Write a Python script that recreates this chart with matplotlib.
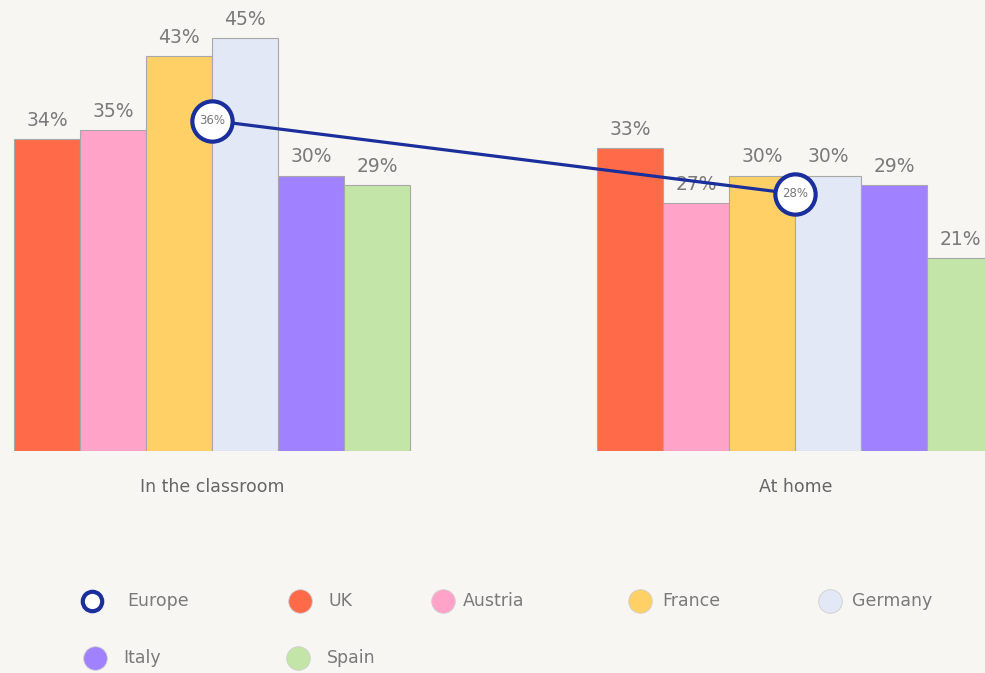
import matplotlib.pyplot as plt

categories = ["In the classroom", "At home"]
countries = ["UK", "Austria", "France", "Germany", "Italy", "Spain"]
values = {
    "UK": [34, 33],
    "Austria": [35, 27],
    "France": [43, 30],
    "Germany": [45, 30],
    "Italy": [30, 29],
    "Spain": [29, 21],
}
europe = [36, 28]
colors = ["#ff6a48", "#ffa3c9", "#ffd066", "#e2e8f6", "#a081ff", "#c4e5a8"]

bg = "#f8f6f2"
blue = "#1b2f9c"
txt = "#7a7a7a"

fig = plt.figure(figsize=(9.85, 6.73), dpi=100, facecolor=bg)
ax = fig.add_axes([0, 222 / 673, 1, 451 / 673])
ax.set_facecolor(bg)

group_x = [0, 8.84]
w = 1.0
for i, c in enumerate(countries):
    xs = [g + (i - 2.5) * w for g in group_x]
    bars = ax.bar(xs, values[c], width=w, color=colors[i], edgecolor="#a8a8a8",
                  linewidth=0.8, zorder=2)
    for b, v in zip(bars, values[c]):
        ax.text(b.get_x() + w / 2, v + 1.0, f"{v}%", ha="center", va="bottom",
                fontsize=13.5, color=txt, zorder=3)

ax.plot(group_x, europe, color=blue, linewidth=2.3, zorder=4,
        marker="o", markersize=29, markerfacecolor="white",
        markeredgecolor=blue, markeredgewidth=3)
for x, v in zip(group_x, europe):
    ax.text(x, v, f"{v}%", ha="center", va="center", fontsize=8.5,
            color="#777777", zorder=5)

for x, cat in zip(group_x, categories):
    ax.text(x, -3.9, cat, ha="center", va="center", fontsize=12.5, color="#666666")

ax.set_xlim(-212 / 66, (985 - 212) / 66)
ax.set_ylim(0, 451 / 9.18)
ax.axis("off")

# legend, laid out in pixel space like the original flex-wrap legend
lg = fig.add_axes([0, 0, 1, 1], facecolor="none")
lg.set_xlim(0, 985)
lg.set_ylim(673, 0)
lg.axis("off")
legend_names = ["Europe"] + countries
legend_pos = [(92, 601), (300, 601), (443, 601), (640, 601), (830, 601),
              (95, 658), (298, 658)]
text_gap = [35, 29, 20, 22, 22, 28, 29]
for k, (name, (px, py)) in enumerate(zip(legend_names, legend_pos)):
    if name == "Europe":
        lg.plot(px, py, "o", markersize=14, markerfacecolor="white",
                markeredgecolor=blue, markeredgewidth=3)
    else:
        lg.plot(px, py, "o", markersize=17, markerfacecolor=colors[k - 1],
                markeredgecolor="#cfcfcf", markeredgewidth=0.6)
    lg.text(px + text_gap[k], py, name, ha="left", va="center",
            fontsize=12.5, color=txt)

fig.savefig("out.png", dpi=100, facecolor=bg)
